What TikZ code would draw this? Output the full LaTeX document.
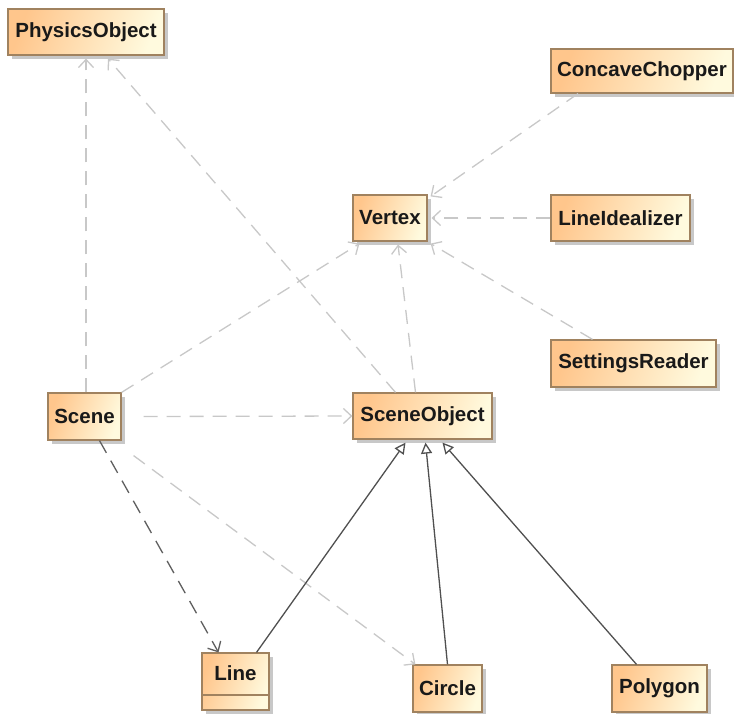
\documentclass[tikz,border=0pt]{standalone}
\usepackage{fontspec}
\setmainfont{Liberation Sans}
\usetikzlibrary{arrows.meta,shadows}
\definecolor{boxleft}{RGB}{255,198,140}
\definecolor{boxright}{RGB}{255,250,222}
\definecolor{boxborder}{RGB}{160,130,95}
\definecolor{deplight}{RGB}{200,200,200}
\definecolor{depdark}{RGB}{95,95,95}
\definecolor{genline}{RGB}{80,80,80}
\tikzset{
  umlbox/.style={draw=boxborder, line width=1.2pt, left color=boxleft, right color=boxright, shading angle=70,
    drop shadow={shadow xshift=4pt, shadow yshift=-4pt, fill=black!30, opacity=0.7},
    inner sep=0pt, font=\fontsize{20.5}{24}\selectfont\bfseries, text=black!90},
  deplt/.style={draw=deplight, line width=1.3pt, dash pattern=on 14pt off 9pt,
    -{Straight Barb[length=8pt,width=15pt,line width=1.3pt]}},
  depdk/.style={draw=depdark, line width=1.3pt, dash pattern=on 14pt off 9pt,
    -{Straight Barb[length=8pt,width=15pt,line width=1.3pt]}},
  gen/.style={draw=genline, line width=1.3pt,
    -{Triangle[open,length=11pt,width=11pt,line width=1.3pt,fill=white]}}
}
\begin{document}
\begin{tikzpicture}[x=1pt,y=-1pt]
\useasboundingbox[fill=white] (0,0) rectangle (734,713);
\node[umlbox, minimum width=156pt, minimum height=46pt] (phys) at (86,32) {PhysicsObject};
\node[umlbox, minimum width=182pt, minimum height=44pt] (chop) at (642,71) {ConcaveChopper};
\node[umlbox, minimum width=74pt, minimum height=46pt] (vertex) at (390,218) {Vertex};
\node[umlbox, minimum width=139pt, minimum height=46pt] (lineid) at (620.5,218) {LineIdealizer};
\node[umlbox, minimum width=165pt, minimum height=47pt] (settings) at (633.5,363.5) {SettingsReader};
\node[umlbox, minimum width=73pt, minimum height=47pt] (scene) at (84.5,416.5) {Scene};
\node[umlbox, minimum width=139pt, minimum height=46pt] (sceneobj) at (422.5,416) {SceneObject};
\node[umlbox, minimum width=67pt, minimum height=57pt] (line) at (235.5,681.5) {};
\node[font=\fontsize{20.5}{24}\selectfont\bfseries, text=black!90, inner sep=0pt] (linetext) at (235.5,673) {Line};
\coordinate (ldivl) at (202,695);
\coordinate (ldivr) at (269,695);
\draw[boxborder, line width=1.2pt] (ldivl) -- (ldivr);
\node[umlbox, minimum width=69pt, minimum height=47pt] (circle) at (447.5,688.5) {Circle};
\node[umlbox, minimum width=95pt, minimum height=47pt] (polygon) at (659.5,688.5) {Polygon};

% dependencies
\draw[deplt] (scene.north -| phys.south) -- ([yshift=-3pt]phys.south);
\draw[deplt] ([xshift=-27pt]sceneobj.north) -- ([xshift=22pt,yshift=-3pt]phys.south);
\draw[deplt] ([xshift=-64pt]chop.south) -- ([xshift=3pt,yshift=-2pt]vertex.north east);
\draw[deplt] (lineid.west) -- ([xshift=4pt]vertex.east);
\draw[deplt] ([xshift=-41pt]settings.north) -- ([xshift=3pt,yshift=-2pt]vertex.south east);
\draw[deplt] (scene.north east) -- ([xshift=7pt,yshift=-2pt]vertex.south west);
\draw[deplt] ([xshift=-7pt]sceneobj.north) -- ([xshift=8pt,yshift=-3pt]vertex.south);
\draw[deplt] ([xshift=22pt]scene.east) -- (sceneobj.west);
\draw[depdk] ([xshift=15pt]scene.south) -- ([xshift=-17pt]line.north);
\draw[deplt] ([xshift=12pt,yshift=-15pt]scene.south east) -- ([xshift=3pt]circle.north west);
% generalizations
\draw[gen] ([xshift=21pt]line.north) -- ([xshift=-17pt,yshift=-3pt]sceneobj.south);
\draw[gen] (circle.north) -- ([xshift=3pt,yshift=-3pt]sceneobj.south);
\draw[gen] ([xshift=-23pt]polygon.north) -- ([xshift=20pt,yshift=-3pt]sceneobj.south);
\end{tikzpicture}
\end{document}
